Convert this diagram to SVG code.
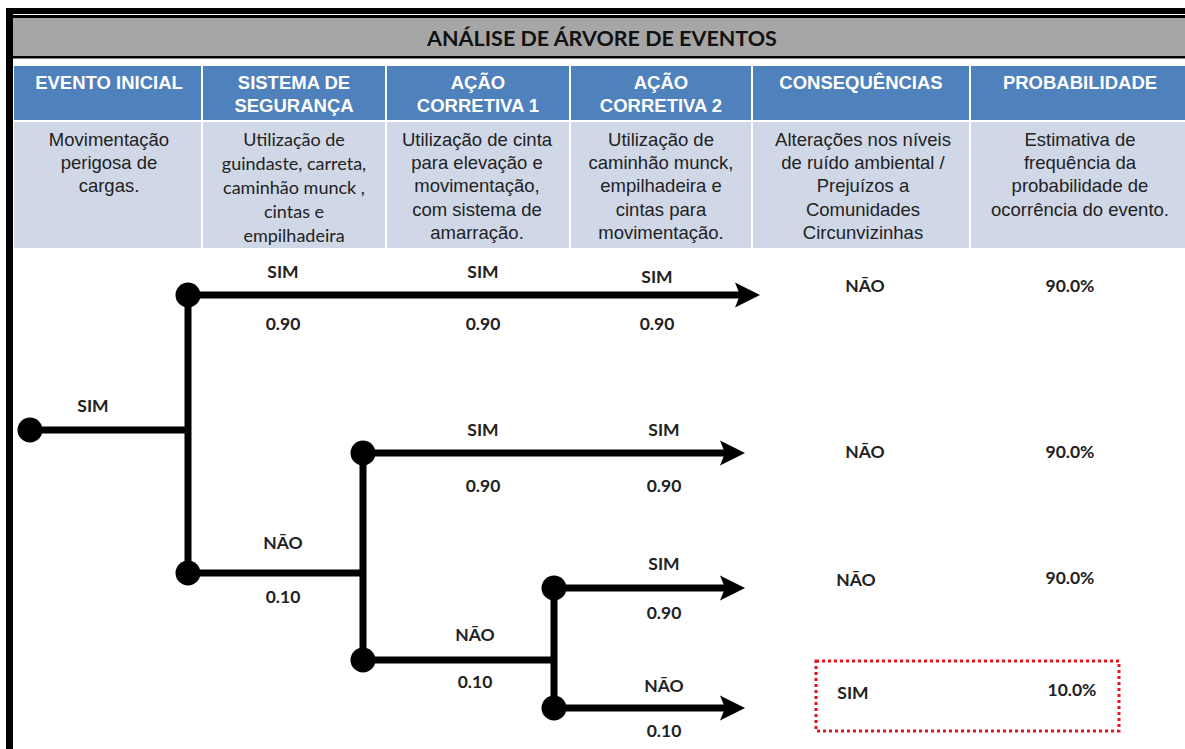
<svg xmlns="http://www.w3.org/2000/svg" width="1185" height="749" viewBox="0 0 1185 749">
<defs>
<style>
.hd{fill:#4f81bd}
.bd{fill:#d0d8e8}
.ht{font-family:"Liberation Sans",Arial,sans-serif;font-weight:bold;font-size:18.5px;fill:#fff;text-anchor:middle}
.bt{font-family:"Liberation Sans",Arial,sans-serif;font-size:18.5px;fill:#222;text-anchor:middle}
.ct{font-family:Lato,"Open Sans",sans-serif;font-size:18px;fill:#222;text-anchor:middle}
.lb{font-family:Lato,"Open Sans",sans-serif;font-weight:bold;font-size:17.5px;fill:#222;text-anchor:middle}
.ln{stroke:#000;stroke-width:7;fill:none}
.nd{fill:#000}
</style>
<marker id="arr" markerUnits="userSpaceOnUse" markerWidth="26" markerHeight="26" refX="10" refY="13" orient="auto" viewBox="0 0 26 26">
<path d="M0,0.5 L25,13 L0,25.5 L5,13 Z" fill="#000"/>
</marker>
</defs>
<rect x="0" y="0" width="1185" height="749" fill="#fff"/>
<g id="frame">
<rect x="6" y="8" width="1179" height="10" fill="#000"/>
<rect x="13" y="14" width="1172" height="1" fill="#fff"/>
<rect x="6" y="8" width="7" height="741" fill="#000"/>
<rect x="13" y="18" width="1172" height="38" fill="#a6a6a6"/>
<rect x="13" y="56" width="1172" height="2.5" fill="#000"/>
<text x="602" y="46" style="font-family:Lato,'Open Sans',sans-serif;font-weight:bold;font-size:21.5px;fill:#111;text-anchor:middle">ANÁLISE DE ÁRVORE DE EVENTOS</text>
</g>
<g id="header">
<rect class="hd" x="14" y="66" width="187" height="54"/>
<rect class="hd" x="203" y="66" width="182" height="54"/>
<rect class="hd" x="387" y="66" width="182" height="54"/>
<rect class="hd" x="571" y="66" width="180" height="54"/>
<rect class="hd" x="753" y="66" width="216" height="54"/>
<rect class="hd" x="971" y="66" width="214" height="54"/>
<text class="ht" x="109" y="89">EVENTO INICIAL</text>
<text class="ht" x="294" y="89">SISTEMA DE</text>
<text class="ht" x="294" y="112">SEGURANÇA</text>
<text class="ht" x="478" y="89">AÇÃO</text>
<text class="ht" x="478" y="112">CORRETIVA 1</text>
<text class="ht" x="661" y="89">AÇÃO</text>
<text class="ht" x="661" y="112">CORRETIVA 2</text>
<text class="ht" x="861" y="89">CONSEQUÊNCIAS</text>
<text class="ht" x="1080" y="89">PROBABILIDADE</text>
</g>
<g id="descriptions">
<rect class="bd" x="14" y="122" width="187" height="126"/>
<rect class="bd" x="203" y="122" width="182" height="126"/>
<rect class="bd" x="387" y="122" width="182" height="126"/>
<rect class="bd" x="571" y="122" width="180" height="126"/>
<rect class="bd" x="753" y="122" width="216" height="126"/>
<rect class="bd" x="971" y="122" width="214" height="126"/>
<text class="bt" x="109" y="146">Movimentação</text>
<text class="bt" x="109" y="169">perigosa de</text>
<text class="bt" x="109" y="192">cargas.</text>
<text class="ct" x="294" y="146">Utilização de</text>
<text class="ct" x="294" y="170">guindaste, carreta,</text>
<text class="ct" x="294" y="194">caminhão munck ,</text>
<text class="ct" x="294" y="218">cintas e</text>
<text class="ct" x="294" y="242">empilhadeira</text>
<text class="bt" x="477" y="146">Utilização de cinta</text>
<text class="bt" x="477" y="169">para elevação e</text>
<text class="bt" x="477" y="192">movimentação,</text>
<text class="bt" x="477" y="216">com sistema de</text>
<text class="bt" x="477" y="239">amarração.</text>
<text class="bt" x="661" y="146">Utilização de</text>
<text class="bt" x="661" y="169">caminhão munck,</text>
<text class="bt" x="661" y="192">empilhadeira e</text>
<text class="bt" x="661" y="216">cintas para</text>
<text class="bt" x="661" y="239">movimentação.</text>
<text class="bt" x="863" y="146">Alterações nos níveis</text>
<text class="bt" x="863" y="169">de ruído ambiental /</text>
<text class="bt" x="863" y="192">Prejuízos a</text>
<text class="bt" x="863" y="216">Comunidades</text>
<text class="bt" x="863" y="239">Circunvizinhas</text>
<text class="bt" x="1080" y="146">Estimativa de</text>
<text class="bt" x="1080" y="169">frequência da</text>
<text class="bt" x="1080" y="192">probabilidade de</text>
<text class="bt" x="1080" y="216">ocorrência do evento.</text>
</g>
<g id="connectors">
<line class="ln" x1="30" y1="430" x2="188" y2="430"/>
<line class="ln" x1="188" y1="295" x2="188" y2="573"/>
<line class="ln" x1="188" y1="295" x2="745" y2="295" marker-end="url(#arr)"/>
<line class="ln" x1="188" y1="573" x2="363" y2="573"/>
<line class="ln" x1="363" y1="453" x2="363" y2="660"/>
<line class="ln" x1="363" y1="453" x2="730" y2="453" marker-end="url(#arr)"/>
<line class="ln" x1="363" y1="660" x2="554" y2="660"/>
<line class="ln" x1="554" y1="588" x2="554" y2="708"/>
<line class="ln" x1="554" y1="588" x2="730" y2="588" marker-end="url(#arr)"/>
<line class="ln" x1="554" y1="708" x2="730" y2="708" marker-end="url(#arr)"/>
</g>
<g id="node-initial"><circle class="nd" cx="30" cy="430" r="12.5"/></g>
<g id="node-seguranca-sim"><circle class="nd" cx="188" cy="295" r="12.5"/></g>
<g id="node-seguranca-nao"><circle class="nd" cx="188" cy="573" r="12.5"/></g>
<g id="node-acao1-sim"><circle class="nd" cx="363" cy="453" r="12.5"/></g>
<g id="node-acao1-nao"><circle class="nd" cx="363" cy="660" r="12.5"/></g>
<g id="node-acao2-sim"><circle class="nd" cx="554" cy="588" r="12.5"/></g>
<g id="node-acao2-nao"><circle class="nd" cx="554" cy="708" r="12.5"/></g>
<g id="labels">
<text class="lb" x="93" y="412">SIM</text>
<text class="lb" x="283" y="278">SIM</text>
<text class="lb" x="283" y="330">0.90</text>
<text class="lb" x="483" y="278">SIM</text>
<text class="lb" x="483" y="330">0.90</text>
<text class="lb" x="657" y="283">SIM</text>
<text class="lb" x="657" y="330">0.90</text>
<text class="lb" x="483" y="436">SIM</text>
<text class="lb" x="483" y="492">0.90</text>
<text class="lb" x="664" y="436">SIM</text>
<text class="lb" x="664" y="492">0.90</text>
<text class="lb" x="283" y="549">NÃO</text>
<text class="lb" x="283" y="603">0.10</text>
<text class="lb" x="664" y="570">SIM</text>
<text class="lb" x="664" y="619">0.90</text>
<text class="lb" x="475" y="641">NÃO</text>
<text class="lb" x="475" y="688">0.10</text>
<text class="lb" x="664" y="692">NÃO</text>
<text class="lb" x="664" y="737">0.10</text>
</g>
<g id="outcomes">
<text class="lb" x="865" y="292">NÃO</text>
<text class="lb" x="1070" y="292">90.0%</text>
<text class="lb" x="865" y="458">NÃO</text>
<text class="lb" x="1070" y="458">90.0%</text>
<text class="lb" x="856" y="586">NÃO</text>
<text class="lb" x="1070" y="584">90.0%</text>
<rect x="816" y="661" width="303" height="70" fill="none" stroke="#e8141c" stroke-width="3" stroke-dasharray="3 3"/>
<text class="lb" x="853" y="699">SIM</text>
<text class="lb" x="1072" y="696">10.0%</text>
</g>
</svg>
